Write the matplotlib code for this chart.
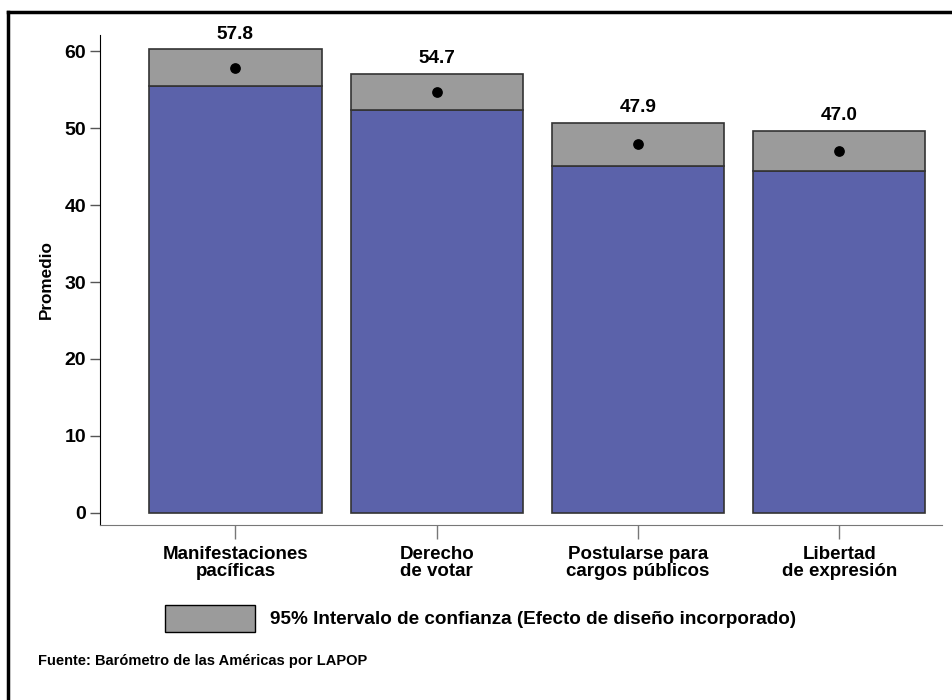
import matplotlib
matplotlib.use("Agg")
import matplotlib.pyplot as plt
from matplotlib.patches import Rectangle
from matplotlib.lines import Line2D

categories = ["Manifestaciones\npacíficas", "Derecho\nde votar",
              "Postularse para\ncargos públicos", "Libertad\nde expresión"]
means = [57.8, 54.7, 47.9, 47.0]
ci_low = [55.5, 52.3, 45.1, 44.4]
ci_high = [60.2, 57.0, 50.6, 49.6]
yticks = [0, 10, 20, 30, 40, 50, 60]
legend_label = "95% Intervalo de confianza (Efecto de diseño incorporado)"
source_text = "Fuente: Barómetro de las Américas por LAPOP"

plt.rcParams['font.family'] = ['Liberation Sans', 'DejaVu Sans']
plt.rcParams['font.weight'] = 'bold'

fig = plt.figure(figsize=(9.52, 7.0), dpi=100)
ax = fig.add_axes([100/952, 1-525/700, (942-100)/952, (525-35)/700])

x = list(range(len(categories)))
w = 0.855
blue = "#5B62AA"
grey = "#9B9B9B"
edge = "#333333"

ax.bar(x, ci_low, width=w, color=blue, edgecolor=edge, linewidth=1.2, zorder=2)
ax.bar(x, [h - l for h, l in zip(ci_high, ci_low)], bottom=ci_low, width=w,
       color=grey, edgecolor=edge, linewidth=1.2, zorder=2)
ax.scatter(x, means, s=45, color="black", zorder=3)
for xi, hi, m in zip(x, ci_high, means):
    ax.annotate(f"{m:.1f}", (xi, hi), xytext=(0, 5), textcoords="offset points",
                ha="center", va="bottom", fontsize=13.7, fontweight="bold")

ax.set_xlim(-0.673, 3.51)
ax.set_ylim(-1.56, 62.08)
ax.set_yticks(yticks)
ax.set_xticks(x)
ax.set_xticklabels(categories, fontsize=13.5, fontweight="bold", linespacing=1.0)
ax.tick_params(axis='y', labelsize=14, length=7, width=1, color="#555555", pad=3)
ax.tick_params(axis='x', length=10, width=1, color="#777777", pad=5)
for lab in ax.get_yticklabels():
    lab.set_fontweight("bold")
ax.set_ylabel("Promedio", fontsize=12.3, fontweight="bold", labelpad=8)
ax.spines['top'].set_visible(False)
ax.spines['right'].set_visible(False)
ax.spines['left'].set_color("black")
ax.spines['bottom'].set_color("#777777")

# legend
fig.patches.append(Rectangle((165/952, 1-632/700), 90/952, 27/700,
                             transform=fig.transFigure, facecolor=grey,
                             edgecolor="black", linewidth=1))
fig.text(270/952, 1-619/700, legend_label, fontsize=13.6, fontweight="bold",
         va="center", ha="left")
fig.text(38/952, 1-661/700, source_text, fontsize=10.5, fontweight="bold",
         va="center", ha="left")

# outer frame (top and left)
fig.add_artist(Line2D([8/952, 1.0], [1-12/700, 1-12/700], transform=fig.transFigure,
                      color="black", linewidth=2.5))
fig.add_artist(Line2D([8/952, 8/952], [0, 1-12/700], transform=fig.transFigure,
                      color="black", linewidth=2.5))

fig.savefig("out.png", dpi=100)
